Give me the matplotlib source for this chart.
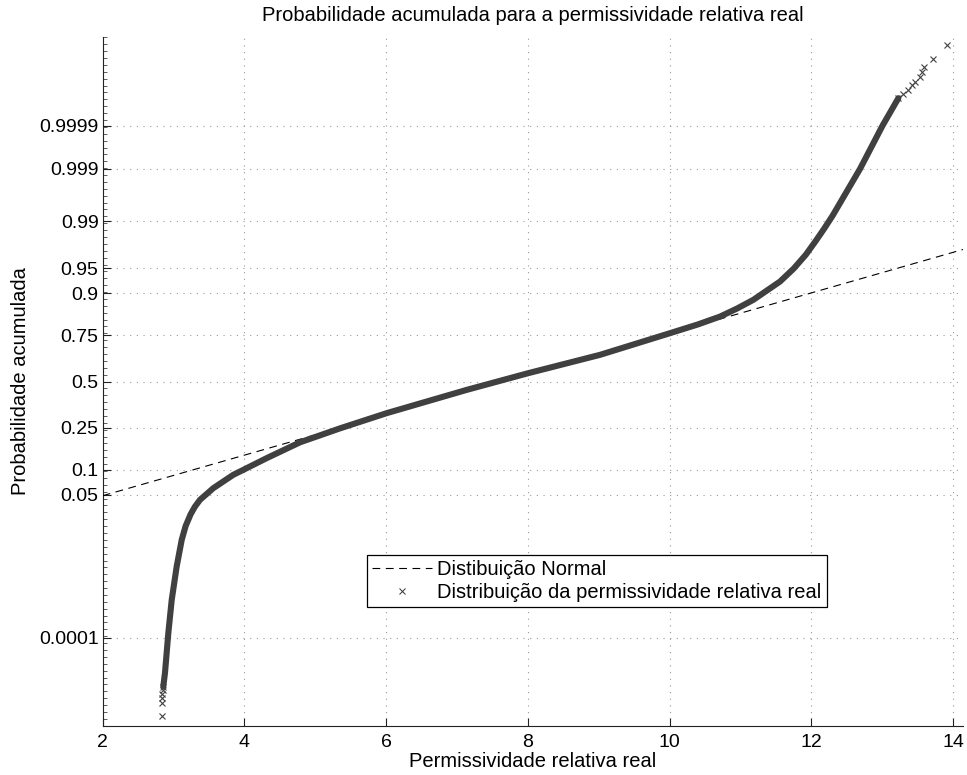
import matplotlib
matplotlib.use("Agg")
import matplotlib.pyplot as plt
from matplotlib.lines import Line2D
from matplotlib.ticker import MultipleLocator, FixedLocator
from statistics import NormalDist
import numpy as np

# ---- data ----
# sample values (x) and their normal quantiles (z) along the dense part of the curve
curve_x = [2.855, 2.879, 2.926, 2.974, 3.044, 3.115, 3.170, 3.240, 3.300, 3.373,
           3.561, 3.843, 3.984, 4.314, 4.784, 5.349, 6.008, 7.137, 8.006, 9.018,
           10.006, 10.400, 10.712, 10.950, 11.181, 11.558, 11.750, 11.920, 12.060,
           12.180, 12.300, 12.687, 13.005, 13.228]
curve_z = [-4.431, -4.232, -3.655, -3.171, -2.687, -2.300, -2.100, -1.930, -1.820, -1.718,
           -1.549, -1.355, -1.283, -1.113, -0.883, -0.680, -0.459, -0.121, 0.122, 0.388,
           0.703, 0.830, 0.944, 1.060, 1.187, 1.453, 1.640, 1.840, 2.040,
           2.220, 2.410, 3.090, 3.719, 4.117]
# sparse markers in the tails
low_tail_x = [2.833, 2.833, 2.837, 2.841, 2.848, 2.855]
low_tail_z = [-4.852, -4.672, -4.599, -4.537, -4.480, -4.431]
high_tail_x = [13.228, 13.290, 13.369, 13.417, 13.463, 13.534, 13.558, 13.595, 13.713, 13.911]
high_tail_z = [4.117, 4.180, 4.237, 4.310, 4.358, 4.431, 4.503, 4.576, 4.683, 4.891]

# fitted normal distribution (reference line)
normal_mu = 7.629
normal_sigma = 3.394

prob_ticks = [0.0001, 0.05, 0.1, 0.25, 0.5, 0.75, 0.9, 0.95, 0.99, 0.999, 0.9999]
prob_labels = ['0.0001', '0.05', '0.1', '0.25', '0.5', '0.75', '0.9', '0.95',
               '0.99', '0.999', '0.9999']
x_ticks = [2, 4, 6, 8, 10, 12, 14]

plt.rcParams['font.family'] = ['Liberation Sans', 'DejaVu Sans']

fig = plt.figure(figsize=(9.67, 7.75), dpi=100)
ax = fig.add_axes([102.7 / 967, 1 - 725.7 / 775, (963 - 102.7) / 967, (725.7 - 36.7) / 775])

xlim = (2.0, 14.14)
ylim = (-5.0, 5.01)

# normal reference line
lx = np.array(xlim)
ax.plot(lx, (lx - normal_mu) / normal_sigma, color='black', lw=0.8,
        linestyle=(0, (7, 5)), zorder=3)

curve_color = '#404040'
ax.plot(curve_x, curve_z, color=curve_color, lw=4.4, solid_capstyle='round',
        solid_joinstyle='round', zorder=4)
ax.plot(low_tail_x, low_tail_z, linestyle='none', marker='x', color=curve_color,
        markersize=4.5, markeredgewidth=0.8, zorder=5)
ax.plot(high_tail_x, high_tail_z, linestyle='none', marker='x', color=curve_color,
        markersize=4.5, markeredgewidth=0.8, zorder=5)

ax.set_xlim(*xlim)
ax.set_ylim(*ylim)

nd = NormalDist()
ax.yaxis.set_major_locator(FixedLocator([nd.inv_cdf(p) for p in prob_ticks]))
ax.set_yticklabels(prob_labels)
ax.yaxis.set_minor_locator(MultipleLocator(0.1))
ax.set_xticks(x_ticks)
ax.set_xticklabels([str(t) for t in x_ticks])

for s in ['top', 'right']:
    ax.spines[s].set_visible(False)
for s in ['left', 'bottom']:
    ax.spines[s].set_linewidth(0.8)
    ax.spines[s].set_color('#222222')

ax.tick_params(axis='both', which='major', direction='in', length=6, width=0.8,
               labelsize=14, colors='#222222', labelcolor='black')
ax.tick_params(axis='y', which='minor', direction='in', length=3, width=0.6,
               colors='#444444')
ax.tick_params(axis='x', which='major', pad=6)
ax.tick_params(axis='y', which='major', pad=3)

ax.grid(True, which='major', color='#999999', linestyle=(0, (1, 5)), linewidth=0.8)
ax.set_axisbelow(True)

ax.set_title('Probabilidade acumulada para a permissividade relativa real',
             fontsize=14.5, pad=11)
ax.set_xlabel('Permissividade relativa real', fontsize=14.5, labelpad=1)
ax.set_ylabel('Probabilidade acumulada', fontsize=14.5, labelpad=6)

handles = [Line2D([], [], color='black', lw=0.8, linestyle=(0, (7, 5))),
           Line2D([], [], color='#333333', linestyle='none', marker='x',
                  markersize=4, markeredgewidth=0.7)]
leg = fig.legend(handles, ['Distibuição Normal',
                           'Distribuição da permissividade relativa real'],
                 loc='upper left', bbox_to_anchor=(367 / 967, 1 - 555 / 775),
                 bbox_transform=fig.transFigure, borderaxespad=0,
                 fancybox=False, framealpha=1, edgecolor='black',
                 handlelength=3.0, handletextpad=0.25, borderpad=0.25,
                 labelspacing=0.2, fontsize=14.5)
leg.get_frame().set_linewidth(0.9)

fig.savefig('out.png', dpi=100)
